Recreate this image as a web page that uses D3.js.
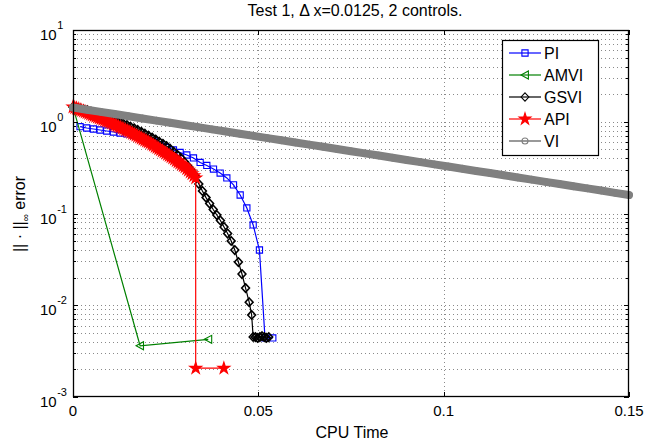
<!DOCTYPE html>
<html>
<head>
<meta charset="utf-8">
<script src="https://cdn.jsdelivr.net/npm/d3@7"></script>
<style>
  html, body { margin: 0; padding: 0; background: #fff; }
  svg { display: block; font-family: "Liberation Sans", Arial, Helvetica, sans-serif; }
</style>
</head>
<body>
<svg id="chart" width="645" height="445"></svg>
<script>
// Convergence histories: CPU time (s) vs max-norm error
const piTime = [0.0019, 0.0037, 0.0055, 0.0073, 0.0091, 0.0109, 0.0127, 0.0145, 0.0163, 0.0181,
  0.0199, 0.0217, 0.0235, 0.0253, 0.0271, 0.0289, 0.0307, 0.0325, 0.0343, 0.0361,
  0.0379, 0.0397, 0.0415, 0.0433, 0.0451, 0.0469, 0.0486, 0.0503, 0.0518, 0.0539];
const piErr = [0.883, 0.855, 0.834, 0.813, 0.793, 0.773, 0.754, 0.736, 0.717, 0.683,
  0.644, 0.602, 0.558, 0.524, 0.492, 0.462, 0.434, 0.403, 0.360, 0.334,
  0.305, 0.276, 0.244, 0.205, 0.159, 0.115, 0.075, 0.040, 0.0044, 0.0044];

const amviTime = [0, 0.0181, 0.0365];
const amviErr = [1.45, 0.00362, 0.00425];

const gsviTime = [0, 0.00097, 0.00194, 0.00291, 0.00388, 0.00485, 0.00582, 0.00679, 0.00776, 0.00873,
  0.0097, 0.01067, 0.01164, 0.01261, 0.01358, 0.01455, 0.01552, 0.01649, 0.01746, 0.01843,
  0.0194, 0.02037, 0.02134, 0.02231, 0.02328, 0.02425, 0.02522, 0.02619, 0.02716, 0.02813,
  0.0291, 0.03007, 0.03104, 0.03201, 0.03298, 0.03395, 0.03492, 0.03589, 0.03686, 0.03783,
  0.0388, 0.03977, 0.04074, 0.04171, 0.04268, 0.04365, 0.04462, 0.04559, 0.04656, 0.04753,
  0.0482, 0.0486, 0.0492, 0.0498, 0.0504, 0.0510, 0.0516, 0.0522, 0.0528];
const gsviErr = [1.448, 1.419, 1.391, 1.363, 1.336, 1.293, 1.258, 1.230, 1.193, 1.152,
  1.112, 1.077, 1.032, 0.994, 0.954, 0.919, 0.883, 0.848, 0.813, 0.777,
  0.741, 0.706, 0.672, 0.639, 0.606, 0.575, 0.544, 0.507, 0.472, 0.436,
  0.403, 0.364, 0.328, 0.293, 0.256, 0.210, 0.176, 0.149, 0.1285, 0.1105,
  0.0963, 0.0839, 0.0713, 0.0605, 0.0502, 0.0400, 0.0296, 0.0219, 0.0154, 0.0108,
  0.00783, 0.00451, 0.0045, 0.0044, 0.0045, 0.0046, 0.0045, 0.0044, 0.0045];

const apiTime = [0, 0.00047, 0.00094, 0.00142, 0.00189, 0.00236, 0.00283, 0.0033, 0.00378, 0.00425,
  0.00472, 0.00519, 0.00566, 0.00614, 0.00661, 0.00708, 0.00755, 0.00802, 0.0085, 0.00897,
  0.00944, 0.00991, 0.01038, 0.01086, 0.01133, 0.0118, 0.01227, 0.01274, 0.01322, 0.01369,
  0.01416, 0.01463, 0.0151, 0.01558, 0.01605, 0.01652, 0.01699, 0.01746, 0.01794, 0.01841,
  0.01888, 0.01935, 0.01982, 0.0203, 0.02077, 0.02124, 0.02171, 0.02218, 0.02266, 0.02313,
  0.0236, 0.02407, 0.02454, 0.02502, 0.02549, 0.02596, 0.02643, 0.0269, 0.02738, 0.02785,
  0.02832, 0.02879, 0.02926, 0.02974, 0.03021, 0.03068, 0.03115, 0.03163, 0.0321, 0.0326,
  0.0331, 0.0331, 0.0407];
const apiErr = [1.448, 1.423, 1.398, 1.372, 1.346, 1.323, 1.300, 1.276, 1.252, 1.230,
  1.209, 1.186, 1.164, 1.142, 1.121, 1.100, 1.079, 1.059, 1.040, 1.022,
  1.004, 0.984, 0.964, 0.944, 0.924, 0.906, 0.888, 0.869, 0.851, 0.833,
  0.815, 0.799, 0.783, 0.764, 0.746, 0.729, 0.712, 0.695, 0.679, 0.662,
  0.645, 0.630, 0.615, 0.601, 0.587, 0.570, 0.554, 0.538, 0.523, 0.509,
  0.495, 0.481, 0.467, 0.454, 0.441, 0.428, 0.416, 0.403, 0.390, 0.377,
  0.365, 0.354, 0.343, 0.332, 0.321, 0.308, 0.296, 0.284, 0.272, 0.258,
  0.244, 0.00206, 0.00206];

const viTime = [0, 0.00375, 0.0075, 0.01125, 0.015, 0.01875, 0.0225, 0.02625, 0.03, 0.03375,
  0.0375, 0.04125, 0.045, 0.04875, 0.0525, 0.05625, 0.06, 0.06375, 0.0675, 0.07125,
  0.075, 0.07875, 0.0825, 0.08625, 0.09, 0.09375, 0.0975, 0.10125, 0.105, 0.10875,
  0.1125, 0.11625, 0.12, 0.12375, 0.1275, 0.13125, 0.135, 0.13875, 0.1425, 0.14625, 0.15];
const viErr = [1.430, 1.354, 1.281, 1.213, 1.148, 1.087, 1.029, 0.974, 0.922, 0.873,
  0.826, 0.782, 0.740, 0.701, 0.663, 0.628, 0.594, 0.563, 0.533, 0.504,
  0.477, 0.452, 0.428, 0.405, 0.383, 0.363, 0.343, 0.325, 0.308, 0.291,
  0.276, 0.261, 0.247, 0.234, 0.221, 0.210, 0.198, 0.188, 0.178, 0.168, 0.159];

const xTicks = [0, 0.05, 0.1, 0.15];
const xTickLabels = ["0", "0.05", "0.1", "0.15"];
const yDecades = [1e-3, 1e-2, 1e-1, 1, 10];
const yExponents = ["-3", "-2", "-1", "0", "1"];

const titleText = "Test 1, \u0394 x=0.0125, 2 controls.";
const xLabelText = "CPU Time";

// ---------------------------------------------------------------
const svg = d3.select("#chart");
const L = 73, R = 629, T = 30, B = 397;

const x = d3.scaleLinear().domain([0, 0.15]).range([L, R]);
const y = d3.scaleLog().domain([1e-3, 10]).range([B, T]);

// minor decade values 2..9 x 10^k
const yMinor = [];
yDecades.slice(0, -1).forEach(d => { for (let m = 2; m <= 9; m++) yMinor.push(d * m); });

const grid = svg.append("g").attr("stroke", "#8a8a8a").attr("stroke-width", 1)
  .attr("stroke-dasharray", "1,3").attr("fill", "none");
xTicks.slice(1, -1).forEach(v => {
  grid.append("line").attr("x1", Math.round(x(v)) + 0.5).attr("x2", Math.round(x(v)) + 0.5)
    .attr("y1", T).attr("y2", B);
});
yDecades.slice(1, -1).concat(yMinor).forEach(v => {
  grid.append("line").attr("x1", L).attr("x2", R)
    .attr("y1", Math.round(y(v)) + 0.5).attr("y2", Math.round(y(v)) + 0.5);
});

// marker shapes
const shapes = {
  square: "M-3.1,-3.1H3.1V3.1H-3.1Z",
  diamond: "M0,-4.2L3.9,0L0,4.2L-3.9,0Z",
  triLeft: "M-4,0L3.4,-4L3.4,4Z",
  star: d3.symbol(d3.symbolStar, 42)(),
};

const plot = svg.append("g");
const line = d3.line().x(d => x(d[0])).y(d => y(d[1]));
const zip = (a, b) => a.map((v, i) => [v, b[i]]);

function drawSeries(tArr, eArr, color, shape, fill, mw) {
  const pts = zip(tArr, eArr);
  plot.append("path").datum(pts).attr("d", line)
    .attr("fill", "none").attr("stroke", color).attr("stroke-width", 1.2);
  plot.append("g").selectAll("path").data(pts).join("path")
    .attr("transform", d => `translate(${x(d[0])},${y(d[1])})`)
    .attr("d", shapes[shape])
    .attr("fill", fill).attr("stroke", color).attr("stroke-width", mw);
}

drawSeries(piTime, piErr, "#0000ff", "square", "none", 1.1);
drawSeries(amviTime, amviErr, "#008000", "triLeft", "none", 1.1);
drawSeries(gsviTime, gsviErr, "#000000", "diamond", "none", 1.6);
drawSeries(apiTime, apiErr, "#ff0000", "star", "#ff0000", 1.2);

// VI: dense circles along a straight decay, forming a thick band
const viPts = zip(viTime, viErr);
plot.append("path").datum(viPts).attr("d", line)
  .attr("fill", "none").attr("stroke", "#808080").attr("stroke-width", 8)
  .attr("stroke-linecap", "round");
plot.append("g").selectAll("circle").data(viPts).join("circle")
  .attr("cx", d => x(d[0])).attr("cy", d => y(d[1])).attr("r", 3.4)
  .attr("fill", "none").attr("stroke", "#808080").attr("stroke-width", 1);

// axes box and ticks
const axes = svg.append("g").attr("stroke", "#000").attr("fill", "none");
axes.append("rect").attr("x", L + 0.5).attr("y", T + 0.5).attr("width", R - L - 1).attr("height", B - T - 1)
  .attr("stroke-width", 1.3);
xTicks.forEach(v => {
  const px = Math.round(x(v)) + 0.5;
  axes.append("line").attr("x1", px).attr("x2", px).attr("y1", B).attr("y2", B - 5);
  axes.append("line").attr("x1", px).attr("x2", px).attr("y1", T).attr("y2", T + 5);
});
yDecades.forEach(v => {
  const py = Math.round(y(v)) + 0.5;
  axes.append("line").attr("x1", L).attr("x2", L + 5).attr("y1", py).attr("y2", py);
  axes.append("line").attr("x1", R).attr("x2", R - 5).attr("y1", py).attr("y2", py);
});
yMinor.forEach(v => {
  const py = Math.round(y(v)) + 0.5;
  axes.append("line").attr("x1", L).attr("x2", L + 3).attr("y1", py).attr("y2", py);
  axes.append("line").attr("x1", R).attr("x2", R - 3).attr("y1", py).attr("y2", py);
});

// tick labels
const txt = svg.append("g").attr("fill", "#000");
xTicks.forEach((v, i) => {
  txt.append("text").attr("x", x(v)).attr("y", B + 19).attr("text-anchor", "middle")
    .attr("font-size", 15).text(xTickLabels[i]);
});
yDecades.forEach((v, i) => {
  const py = y(v);
  const t = txt.append("text").attr("x", 40).attr("y", py + 10).attr("font-size", 15);
  t.append("tspan").text("10");
  t.append("tspan").attr("font-size", 11).attr("dy", -11).attr("dx", 0.5).text(yExponents[i]);
});

// titles
txt.append("text").attr("x", 355).attr("y", 16).attr("text-anchor", "middle")
  .attr("font-size", 16).text(titleText);
txt.append("text").attr("x", 352).attr("y", 438).attr("text-anchor", "middle")
  .attr("font-size", 16).text(xLabelText);
const yl = txt.append("text").attr("transform", "translate(25,214) rotate(-90)")
  .attr("text-anchor", "middle").attr("font-size", 16);
yl.append("tspan").text("|| \u00b7 ||");
yl.append("tspan").attr("font-size", 10).attr("dy", 4).text("\u221e");
yl.append("tspan").attr("dy", -4).text(" error");

// legend
const legendItems = [
  { name: "PI", color: "#0000ff", shape: "square", fill: "none" },
  { name: "AMVI", color: "#008000", shape: "triLeft", fill: "none" },
  { name: "GSVI", color: "#000000", shape: "diamond", fill: "none" },
  { name: "API", color: "#ff0000", shape: "star", fill: "#ff0000" },
  { name: "VI", color: "#808080", shape: "circle", fill: "none" },
];
const lg = svg.append("g");
lg.append("rect").attr("x", 502.5).attr("y", 40.5).attr("width", 96).attr("height", 115)
  .attr("fill", "#fff").attr("stroke", "#000").attr("stroke-width", 1.2);
legendItems.forEach((it, i) => {
  const cy = 53 + i * 22;
  lg.append("line").attr("x1", 509).attr("x2", 541).attr("y1", cy).attr("y2", cy)
    .attr("stroke", it.color).attr("stroke-width", it.name === "VI" ? 1.6 : 1.2);
  if (it.shape === "circle") {
    lg.append("circle").attr("cx", 525).attr("cy", cy).attr("r", 3)
      .attr("fill", "none").attr("stroke", it.color).attr("stroke-width", 1.1);
  } else {
    lg.append("path").attr("transform", `translate(525,${cy})`).attr("d", shapes[it.shape])
      .attr("fill", it.fill).attr("stroke", it.color).attr("stroke-width", 1.1);
  }
  lg.append("text").attr("x", 544).attr("y", cy + 6).attr("font-size", 16).text(it.name);
});
</script>
</body>
</html>
